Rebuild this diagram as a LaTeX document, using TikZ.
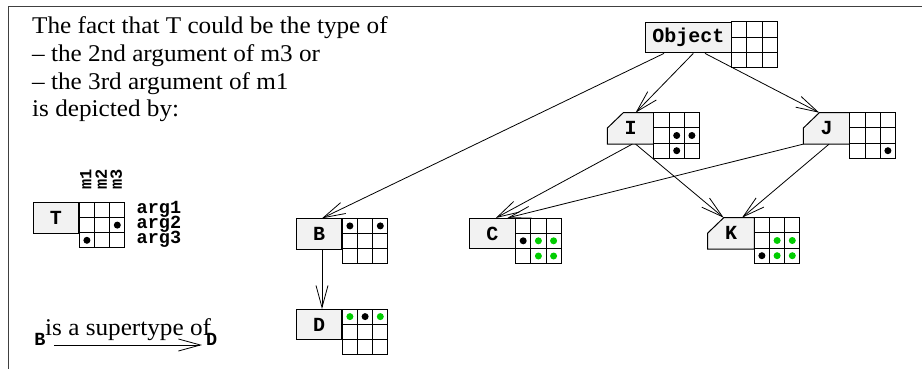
\documentclass[tikz,border=0pt]{standalone}
\usepackage{fontspec}
\setmainfont{Liberation Serif}[FakeStretch=1.05]
\newfontfamily\cour{Liberation Mono}[BoldFont={Liberation Mono Bold}]
\usetikzlibrary{arrows.meta}
\definecolor{boxgray}{HTML}{F2F2F2}
\definecolor{dotgreen}{HTML}{00CD00}
\tikzset{
  lbl/.style={draw, line width=1pt, fill=boxgray, inner sep=0pt, minimum width=45.6pt, minimum height=30.4pt, anchor=north west, font=\cour\bfseries\fontsize{20}{20}\selectfont},
  lblhid/.style={lbl, draw=none, fill=none},
  edge/.style={line width=0.8pt, -{Straight Barb[length=22pt,width=12pt,line width=0.8pt]}},
  txt/.style={anchor=base west, inner sep=0pt, font=\fontsize{24}{24}\selectfont},
  tt/.style={inner sep=0pt, font=\cour\bfseries\fontsize{18.5}{18.5}\selectfont},
  ttm/.style={inner sep=0pt, rotate=90, anchor=west, font=\cour\bfseries\fontsize{17}{17}\selectfont},
  cellgrid/.pic={
    \draw[line width=1pt, fill=white] (0,0) rectangle (45.6,45.6);
    \foreach \i in {1,2} {
      \draw[line width=1pt] (15.2*\i,0) -- (15.2*\i,45.6);
      \draw[line width=1pt] (0,15.2*\i) -- (45.6,15.2*\i);
    }
  }
}
\newcommand\mydot[4]{\fill[#4] ([xshift={(15.2*#2-7.6)*1pt}, yshift={-(15.2*#3-7.6)*1pt}]#1.north east) circle[radius=3.5pt];}
\newcommand\chamfer[1]{\draw[line width=1pt, fill=boxgray] (#1.south west) -- ([yshift=-15.4pt]#1.north west) -- ([xshift=16pt]#1.north west) -- (#1.north east) -- (#1.south east) -- cycle;}
\begin{document}
\begin{tikzpicture}[x=1pt, y=-1pt]
\useasboundingbox (0,0) rectangle (922,369);
% frame (cut at right and bottom)
\draw[line width=1pt, color=black!75] (8.5,400) -- (8.5,7) -- (930,7);

% explanatory text
\node[txt] (t1) at (32,34) {The fact that T could be the type of};
\node[txt] (t2) at (32,61.5) {– the 2nd argument of m3 or};
\node[txt] (t3) at (32,89) {– the 3rd argument of m1};
\node[txt] (t4) at (32,116.5) {is depicted by:};

% legend node T
\node[lbl] (T) at (32.7,202.3) {T};
\pic at (T.north east) {cellgrid};
\mydot{T}{3}{2}{black}
\mydot{T}{1}{3}{black}
\node[ttm] (m1) at (85.9,190) {m1};
\node[ttm] (m2) at (101.1,190) {m2};
\node[ttm] (m3) at (116.3,190) {m3};
\node[tt, anchor=west] (a1) at (136.5,209) {arg1};
\node[tt, anchor=west] (a2) at (136.5,224) {arg2};
\node[tt, anchor=west] (a3) at (136.5,239) {arg3};

% legend arrow
\node[tt, anchor=base] (Bl) at (40,345) {B};
\node[tt, anchor=base] (Dl) at (211.7,345) {D};
\draw[edge] ([xshift=8pt]Bl.base east) -- ([xshift=-4pt]Dl.base west);
\node[txt] (sup) at (45,335) {is a supertype of};

% hierarchy nodes
\node[lbl, minimum width=85.7pt] (Object) at (645,22) {Object};
\pic at (Object.north east) {cellgrid};

\node[lblhid] (I) at (607.3,112.7) {};
\chamfer{I}
\node[font=\cour\bfseries\fontsize{20}{20}\selectfont] at (I.center) {I};
\pic at (I.north east) {cellgrid};
\mydot{I}{2}{2}{black}
\mydot{I}{3}{2}{black}
\mydot{I}{2}{3}{black}

\node[lblhid] (J) at (803.3,112.7) {};
\chamfer{J}
\node[font=\cour\bfseries\fontsize{20}{20}\selectfont] at (J.center) {J};
\pic at (J.north east) {cellgrid};
\mydot{J}{3}{3}{black}

\node[lblhid] (K) at (707.7,217.7) {};
\chamfer{K}
\node[font=\cour\bfseries\fontsize{20}{20}\selectfont] at (K.center) {K};
\pic at (K.north east) {cellgrid};
\mydot{K}{2}{2}{dotgreen}
\mydot{K}{3}{2}{dotgreen}
\mydot{K}{1}{3}{black}
\mydot{K}{2}{3}{dotgreen}
\mydot{K}{3}{3}{dotgreen}

\node[lbl] (B) at (295.7,218.3) {B};
\pic at (B.north east) {cellgrid};
\mydot{B}{1}{1}{black}
\mydot{B}{3}{1}{black}

\node[lbl] (C) at (469,218) {C};
\pic at (C.north east) {cellgrid};
\mydot{C}{1}{2}{black}
\mydot{C}{2}{2}{dotgreen}
\mydot{C}{3}{2}{dotgreen}
\mydot{C}{2}{3}{dotgreen}
\mydot{C}{3}{3}{dotgreen}

\node[lbl] (D) at (295.7,309) {D};
\pic at (D.north east) {cellgrid};
\mydot{D}{1}{1}{dotgreen}
\mydot{D}{2}{1}{black}
\mydot{D}{3}{1}{dotgreen}

% edges
\draw[edge] ([xshift=19pt]Object.south west) -- ([xshift=3pt]B.north);
\draw[edge] ([xshift=48.3pt]Object.south west) -- ([xshift=5pt]I.north);
\draw[edge] ([xshift=60pt]Object.south west) -- ([xshift=16pt]J.north west);
\draw[edge] ([xshift=1.7pt]I.south) -- ([xshift=3.5pt]C.north);
\draw[edge] ([xshift=5pt]I.south) -- ([xshift=16pt]K.north west);
\draw[edge] (J.south west) -- ([xshift=15pt]C.north);
\draw[edge] ([xshift=2.5pt]J.south) -- ([xshift=11pt]K.north);
\draw[edge] ([xshift=3pt]B.south) -- ([xshift=3pt]D.north);
\end{tikzpicture}
\end{document}
